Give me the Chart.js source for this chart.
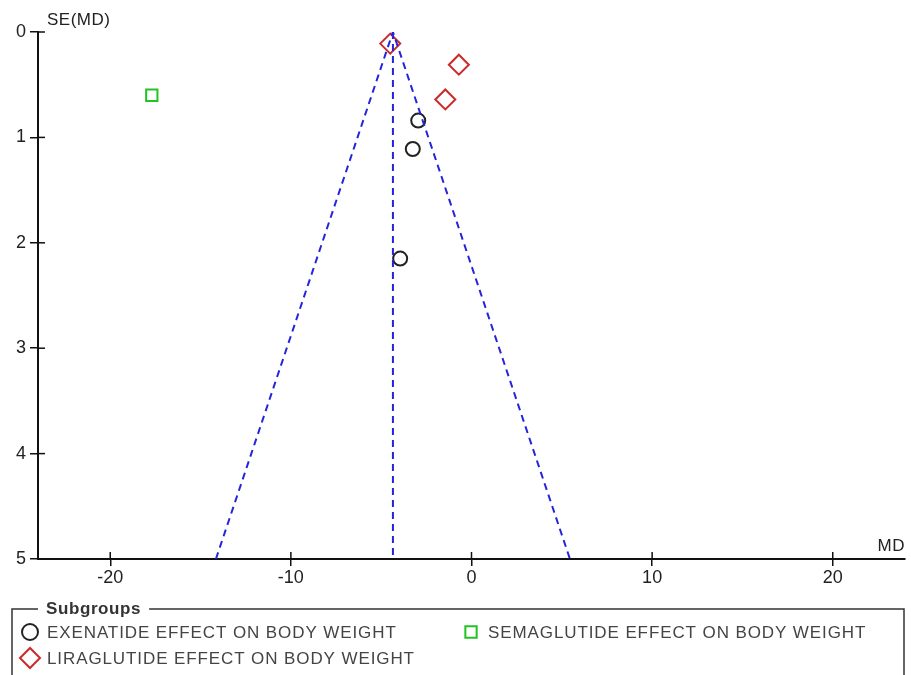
<!DOCTYPE html>
<html>
<head>
<meta charset="utf-8">
<script src="https://cdn.jsdelivr.net/npm/chart.js@4"></script>
<style>
  body { margin: 0; background: #fff; }
  #wrap { width: 911px; height: 675px; position: relative; }
</style>
</head>
<body>
<div id="wrap"><canvas id="funnel" width="911" height="675"></canvas></div>
<script>
// study points, MD and SE(MD)
const exenatide_md = [-2.95, -3.25, -3.95]
const exenatide_se = [0.84, 1.11, 2.15]
const liraglutide_md = [-4.5, -0.7, -1.45]
const liraglutide_se = [0.11, 0.31, 0.64]
const semaglutide_md = [-17.7]
const semaglutide_se = [0.60]

// pooled estimate for the funnel
const pooled_md = -4.35
const funnel_se = [0, 5]

const x_ticks = [-20, -10, 0, 10, 20]
const y_ticks = [0, 1, 2, 3, 4, 5]

const legend_items = [
    { text: "EXENATIDE EFFECT ON BODY WEIGHT", style: "circle", color: "#222222" },
    { text: "LIRAGLUTIDE EFFECT ON BODY WEIGHT", style: "rectRot", color: "#cc2a2a" },
    { text: "SEMAGLUTIDE EFFECT ON BODY WEIGHT", style: "rect", color: "#22c322" }
]

function toPoints(xs, ys) {
    let pts = []
    for (let i = 0; i < xs.length; i++) pts.push({ x: xs[i], y: ys[i] })
    return pts
}

const se_max = funnel_se[1]
const funnel_data = [
    { x: pooled_md - 1.96 * se_max, y: se_max },
    { x: pooled_md, y: funnel_se[0] },
    { x: pooled_md + 1.96 * se_max, y: se_max }
]
const center_data = [
    { x: pooled_md, y: funnel_se[0] },
    { x: pooled_md, y: se_max }
]

const FONT = "'Liberation Sans', Arial, sans-serif"

const extras = {
    id: 'extras',
    afterDraw(chart) {
        const ctx = chart.ctx
        const xs = chart.scales.x, ys = chart.scales.y
        const area = chart.chartArea
        ctx.save()
        // inward half of tick marks
        ctx.strokeStyle = '#111'
        ctx.lineWidth = 1.5
        x_ticks.forEach(v => {
            const px = xs.getPixelForValue(v)
            ctx.beginPath(); ctx.moveTo(px, area.bottom); ctx.lineTo(px, area.bottom - 7); ctx.stroke()
        })
        y_ticks.forEach(v => {
            const py = ys.getPixelForValue(v)
            ctx.beginPath(); ctx.moveTo(area.left, py); ctx.lineTo(area.left + 7, py); ctx.stroke()
        })
        // axis titles
        ctx.fillStyle = '#222'
        ctx.font = '17px ' + FONT
        ctx.textBaseline = 'middle'
        ctx.textAlign = 'left'
        ctx.letterSpacing = '0.5px'
        ctx.fillText('SE(MD)', area.left + 9, 20)
        ctx.textAlign = 'right'
        ctx.fillText('MD', area.right, 546)

        // legend box
        const boxL = 12, boxR = 904, boxT = 609, boxB = 680
        ctx.strokeStyle = '#333'
        ctx.lineWidth = 1.5
        ctx.font = 'bold 17px ' + FONT
        ctx.letterSpacing = '0.6px'
        ctx.textAlign = 'left'
        const title = 'Subgroups'
        const tw = ctx.measureText(title).width
        ctx.beginPath()
        ctx.moveTo(38, boxT); ctx.lineTo(boxL, boxT); ctx.lineTo(boxL, boxB)
        ctx.moveTo(46 + tw + 8, boxT); ctx.lineTo(boxR, boxT); ctx.lineTo(boxR, boxB)
        ctx.stroke()
        ctx.fillStyle = '#333'
        ctx.fillText(title, 46, boxT)

        const pos = [[30, 632], [30, 658], [471, 632]]
        ctx.font = '17px ' + FONT
        ctx.letterSpacing = '0.9px'
        legend_items.forEach((it, i) => {
            const [mx, my] = pos[i]
            ctx.strokeStyle = it.color
            ctx.fillStyle = 'rgba(0,0,0,0)'
            ctx.lineWidth = 2
            Chart.helpers.drawPoint(ctx, { pointStyle: it.style, radius: it.style === 'rectRot' ? 10 : 8, borderWidth: 2 }, mx, my)
            ctx.fillStyle = '#444'
            ctx.fillText(it.text, mx + 17, my + 1)
        })
        ctx.restore()
    }
}

new Chart(
    document.getElementById('funnel'),
    {
        type: 'scatter',
        data: {
            datasets: [
                {
                    label: 'funnel',
                    data: funnel_data,
                    showLine: true,
                    borderColor: '#2424dc',
                    borderWidth: 2,
                    borderDash: [7, 5],
                    pointRadius: 0,
                    fill: false
                },
                {
                    label: 'pooled',
                    data: center_data,
                    showLine: true,
                    borderColor: '#2424dc',
                    borderWidth: 2,
                    borderDash: [7, 5],
                    pointRadius: 0,
                    fill: false
                },
                {
                    label: legend_items[0].text,
                    data: toPoints(exenatide_md, exenatide_se),
                    pointStyle: 'circle',
                    pointRadius: 7,
                    borderColor: '#222222',
                    borderWidth: 2,
                    backgroundColor: 'rgba(0,0,0,0)'
                },
                {
                    label: legend_items[1].text,
                    data: toPoints(liraglutide_md, liraglutide_se),
                    pointStyle: 'rectRot',
                    pointRadius: 10,
                    borderColor: '#cc2a2a',
                    borderWidth: 2,
                    backgroundColor: 'rgba(0,0,0,0)'
                },
                {
                    label: legend_items[2].text,
                    data: toPoints(semaglutide_md, semaglutide_se),
                    pointStyle: 'rect',
                    pointRadius: 8,
                    borderColor: '#22c322',
                    borderWidth: 2,
                    backgroundColor: 'rgba(0,0,0,0)'
                }
            ]
        },
        options: {
            responsive: false,
            animation: false,
            layout: { autoPadding: false, padding: { left: 0, top: 32, right: 6, bottom: 0 } },
            plugins: {
                legend: { display: false },
                tooltip: { enabled: false }
            },
            scales: {
                x: {
                    type: 'linear',
                    min: -24,
                    max: 24,
                    afterFit: s => { s.height = 675 - 559; s.paddingRight = 0; s.paddingLeft = 0 },
                    afterBuildTicks: s => { s.ticks = x_ticks.map(v => ({ value: v })) },
                    grid: { drawOnChartArea: false, drawTicks: true, tickLength: 7, color: '#111', lineWidth: 1.5 },
                    border: { color: '#111', width: 2 },
                    ticks: { color: '#222', font: { family: FONT, size: 18 }, padding: 1, maxRotation: 0 }
                },
                y: {
                    type: 'linear',
                    reverse: true,
                    min: 0,
                    max: 5,
                    afterFit: s => { s.width = 38; s.paddingTop = 0; s.paddingBottom = 0 },
                    afterBuildTicks: s => { s.ticks = y_ticks.map(v => ({ value: v })) },
                    grid: { drawOnChartArea: false, drawTicks: true, tickLength: 8, color: '#111', lineWidth: 1.5 },
                    border: { color: '#111', width: 2 },
                    ticks: { color: '#222', font: { family: FONT, size: 18 }, padding: 4 }
                }
            }
        },
        plugins: [extras]
    }
)
</script>
</body>
</html>
